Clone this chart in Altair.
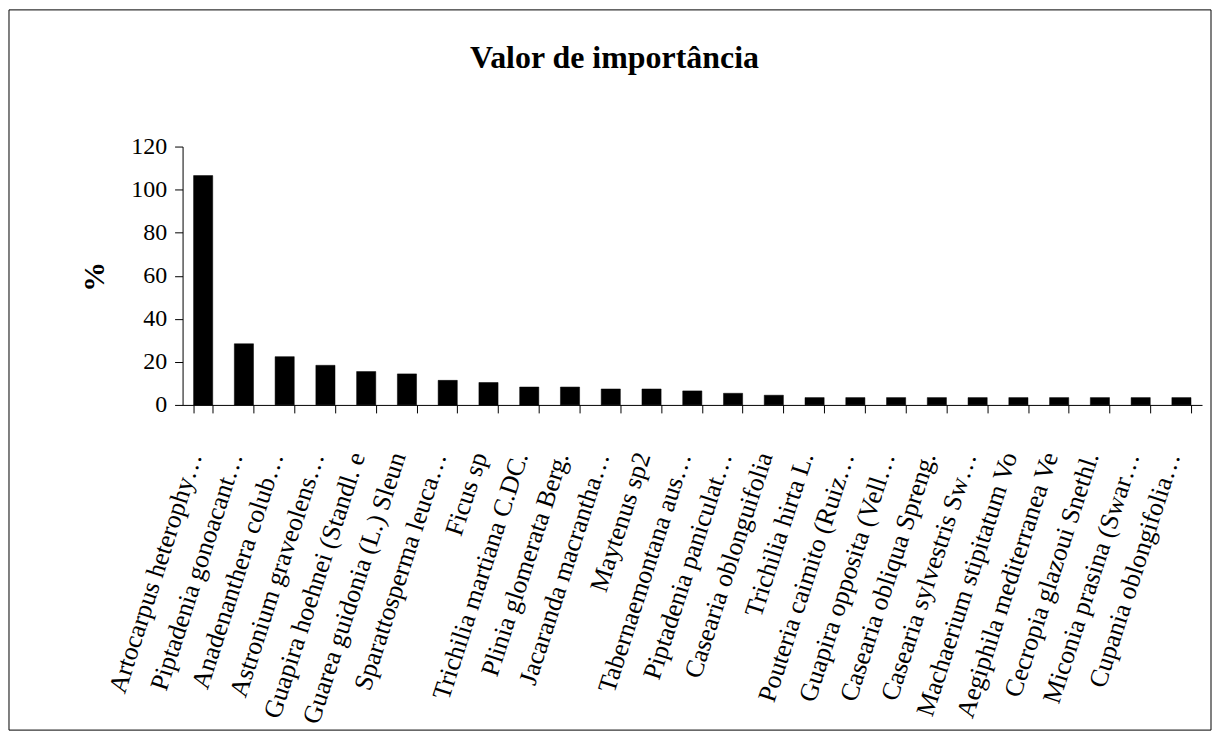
import altair as alt
import pandas as pd

species = [
    "Artocarpus heterophy…",
    "Piptadenia gonoacant…",
    "Anadenanthera colub…",
    "Astronium graveolens…",
    "Guapira hoehnei (Standl. e",
    "Guarea guidonia (L.) Sleun",
    "Sparattosperma leuca…",
    "Ficus sp",
    "Trichilia martiana C.DC.",
    "Plinia glomerata Berg.",
    "Jacaranda macrantha…",
    "Maytenus sp2",
    "Tabernaemontana aus…",
    "Piptadenia paniculat…",
    "Casearia oblonguifolia",
    "Trichilia hirta L.",
    "Pouteria caimito (Ruiz…",
    "Guapira opposita (Vell…",
    "Casearia obliqua Spreng.",
    "Casearia sylvestris Sw…",
    "Machaerium stipitatum Vo",
    "Aegiphila mediterranea Ve",
    "Cecropia glazoui Snethl.",
    "Miconia prasina (Swar…",
    "Cupania oblongifolia…",
]
values = [106.5, 28.4, 22.4, 18.4, 15.5, 14.4, 11.4, 10.4, 8.3, 8.3,
          7.4, 7.4, 6.5, 5.4, 4.5, 3.4, 3.4, 3.4, 3.4, 3.4,
          3.4, 3.4, 3.4, 3.4, 3.4]
y_ticks = [0, 20, 40, 60, 80, 100, 120]
title_text = ["Valor de importância"]

df = pd.DataFrame({"especie": species, "valor": values})
tdf = pd.DataFrame({"t": title_text})

FONT = "Times New Roman, Liberation Serif, serif"

bars = alt.Chart(df).mark_bar(color="black", stroke="black", strokeWidth=0.5).encode(
    x=alt.X(
        "especie:N",
        sort=species,
        scale=alt.Scale(paddingInner=0.53, paddingOuter=0.27),
        axis=alt.Axis(
            title=None,
            labelAngle=-72,
            labelAlign="right",
            labelBaseline="middle",
            labelFont=FONT,
            labelFontSize=26,
            labelColor="black",
            labelPadding=40,
            labelOffset=-9,
            labelLimit=400,
            labelOverlap=False,
            tickBand="extent",
            tickSize=8,
            tickColor="black",
            domainColor="black",
            domainWidth=1,
            tickWidth=1,
            grid=False,
        ),
    ),
    y=alt.Y(
        "valor:Q",
        scale=alt.Scale(domain=[0, 120], nice=False),
        axis=alt.Axis(
            title="%",
            titleFont=FONT,
            titleFontSize=30,
            titleFontWeight="bold",
            titleColor="black",
            titleX=-88,
            titleY=130,
            titleAngle=-90,
            titleAlign="center",
            titleBaseline="middle",
            values=y_ticks,
            labelFont=FONT,
            labelFontSize=24,
            labelColor="black",
            labelPadding=8,
            tickSize=8,
            tickColor="black",
            domainColor="black",
            grid=False,
        ),
    ),
)

frame = alt.Chart(tdf).mark_rect(filled=False, stroke="black", strokeWidth=1).encode(
    x=alt.value(-174), x2=alt.value(1031), y=alt.value(-137), y2=alt.value(585)
)

title = alt.Chart(tdf).mark_text(
    font=FONT, fontSize=32, fontWeight="bold", color="black",
    align="center", baseline="alphabetic",
).encode(text="t:N", x=alt.value(433), y=alt.value(-79))

chart = alt.layer(frame, title, bars).properties(
    width=1022,
    height=259,
    padding={"left": 175, "top": 138, "right": 11, "bottom": 327},
    autosize=alt.AutoSizeParams(type="none"),
    background="white",
).configure_view(stroke=None)

chart.save("out.html", embed_options={"renderer": "svg", "actions": False})
